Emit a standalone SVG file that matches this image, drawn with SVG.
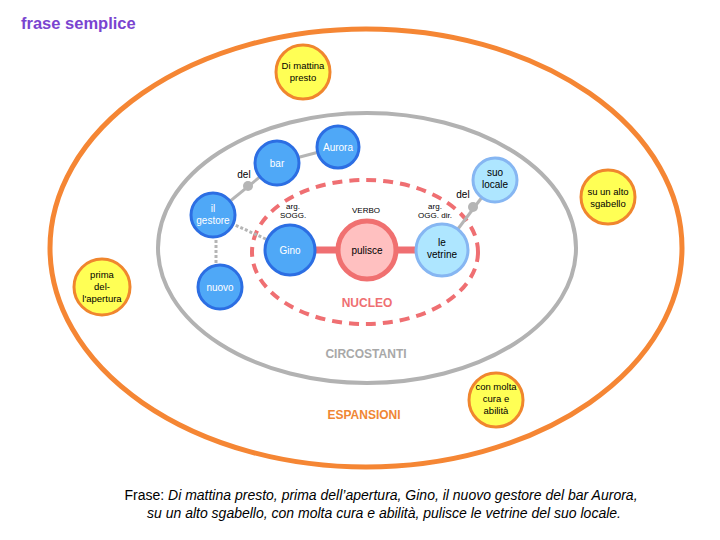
<svg xmlns="http://www.w3.org/2000/svg" width="720" height="540" viewBox="0 0 720 540">
<style>
text{font-family:"Liberation Sans",Arial,sans-serif}
.ring{fill:none}
.blue circle{fill:#4fa8f7;stroke:#2c6ee3;stroke-width:3}
.blue text{fill:#fff;font-size:10px;text-anchor:middle}
.light circle{fill:#aee6ff;stroke:#86b6f2;stroke-width:3}
.light text{fill:#000;font-size:10px;text-anchor:middle}
.yel circle{fill:#ffff55;stroke:#f0862e;stroke-width:3}
.yel text{fill:#000;font-size:9.5px;text-anchor:middle}
.verb circle{fill:#ffc0c0;stroke:#f07070;stroke-width:5}
.verb text{fill:#000;font-size:10px;text-anchor:middle}
.small{font-size:8px;text-anchor:middle;fill:#000}
.lbl{font-size:10px;fill:#000;text-anchor:middle}
.big{font-size:12px;font-weight:bold;text-anchor:middle}
</style>
<text x="21" y="29" font-size="16.5" font-weight="bold" fill="#7a44d0">frase semplice</text>
<ellipse class="ring" cx="366" cy="248" rx="316" ry="219" stroke="#f58634" stroke-width="5"/>
<ellipse class="ring" cx="367" cy="248" rx="209" ry="135" stroke="#b2b2b2" stroke-width="4"/>
<ellipse class="ring" cx="365" cy="252" rx="113" ry="72" stroke="#ef6f72" stroke-width="4" stroke-dasharray="10 7"/>
<g id="connectors">
<line x1="277" y1="163" x2="338" y2="147" stroke="#b5b5b5" stroke-width="3"/>
<line x1="213" y1="215" x2="277" y2="163" stroke="#b5b5b5" stroke-width="3"/>
<circle cx="248" cy="186" r="5" fill="#b5b5b5"/>
<line x1="213" y1="215" x2="290" y2="250" stroke="#b5b5b5" stroke-width="3" stroke-dasharray="3 2"/>
<line x1="216" y1="215" x2="216" y2="287" stroke="#b5b5b5" stroke-width="3" stroke-dasharray="3 2"/>
<line x1="442" y1="250" x2="495" y2="180" stroke="#b5b5b5" stroke-width="3"/>
<circle cx="473" cy="207" r="5" fill="#b5b5b5"/>
<line x1="290" y1="250" x2="442" y2="250" stroke="#ef6f72" stroke-width="7"/>
</g>
<text class="lbl" x="244" y="178">del</text>
<text class="lbl" x="463" y="198">del</text>
<g id="aurora" class="blue"><circle cx="338" cy="147" r="21"/><text x="338" y="151">Aurora</text></g>
<g id="bar" class="blue"><circle cx="277" cy="163" r="22"/><text x="277" y="167">bar</text></g>
<g id="gestore" class="blue"><circle cx="213" cy="215" r="22"/><text x="213" y="212">il</text><text x="213" y="224">gestore</text></g>
<g id="nuovo" class="blue"><circle cx="220" cy="287" r="22"/><text x="220" y="291">nuovo</text></g>
<g id="gino" class="blue"><circle cx="290" cy="250" r="25"/><text x="290" y="254">Gino</text></g>
<g id="pulisce" class="verb"><circle cx="367" cy="250" r="29"/><text x="367" y="254">pulisce</text></g>
<g id="vetrine" class="light"><circle cx="442" cy="250" r="26"/><text x="442" y="246">le</text><text x="442" y="258">vetrine</text></g>
<g id="locale" class="light"><circle cx="495" cy="180" r="22"/><text x="495" y="176">suo</text><text x="495" y="188">locale</text></g>
<text class="small" x="293" y="209">arg.</text><text class="small" x="293" y="218">SOGG.</text>
<text class="small" x="366" y="213">VERBO</text>
<text class="small" x="435" y="209">arg.</text><text class="small" x="435" y="218">OGG. dir.</text>
<text class="big" x="367" y="307" fill="#ef6f72">NUCLEO</text>
<text class="big" x="366" y="358" fill="#a8a8a8">CIRCOSTANTI</text>
<text class="big" x="364" y="419" fill="#f08634">ESPANSIONI</text>
<g id="mattina" class="yel"><circle cx="303" cy="72" r="27"/><text x="303" y="69">Di mattina</text><text x="303" y="81">presto</text></g>
<g id="prima" class="yel"><circle cx="102" cy="287" r="28"/><text x="102" y="278">prima</text><text x="102" y="290">del-</text><text x="102" y="302">l'apertura</text></g>
<g id="sgabello" class="yel"><circle cx="608" cy="197" r="27"/><text x="608" y="195">su un alto</text><text x="608" y="207">sgabello</text></g>
<g id="cura" class="yel"><circle cx="496" cy="400" r="27"/><text x="496" y="390">con molta</text><text x="496" y="402">cura e</text><text x="496" y="414">abilità</text></g>
<text x="381" y="500" font-size="14" text-anchor="middle" fill="#000">Frase: <tspan font-style="italic">Di mattina presto, prima dell’apertura, Gino, il nuovo gestore del bar Aurora,</tspan></text>
<text x="384" y="518" font-size="14" text-anchor="middle" fill="#000" font-style="italic">su un alto sgabello, con molta cura e abilità, pulisce le vetrine del suo locale.</text>
</svg>
